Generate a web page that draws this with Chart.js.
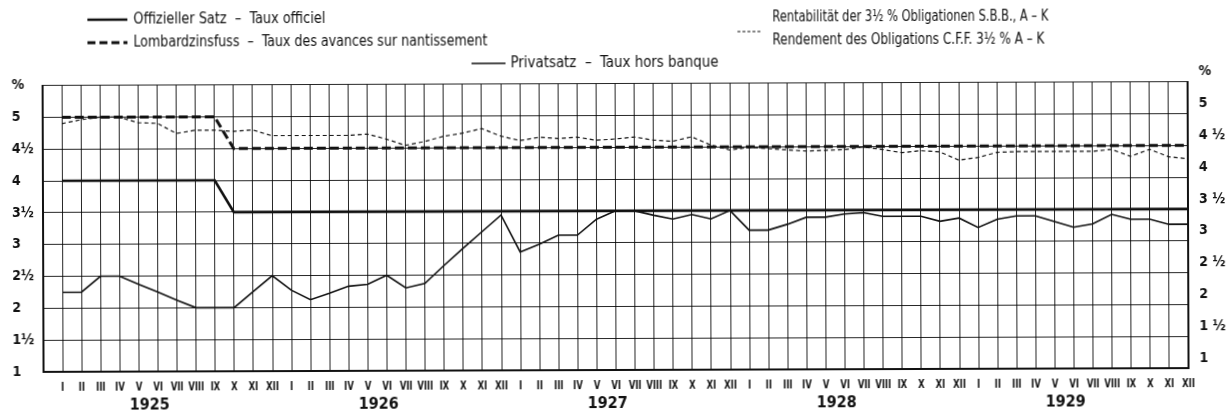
<!DOCTYPE html>
<html><head><meta charset="utf-8">
<script src="https://cdn.jsdelivr.net/npm/chart.js@4/dist/chart.umd.min.js"></script>
<style>
html,body{margin:0;padding:0;background:#fff;overflow:hidden}
#c{display:block;transform:rotate(-0.19deg);transform-origin:614px 207px}
</style></head><body>
<canvas id="c" width="1229" height="414"></canvas>
<script>
const monthLabels = ["I","II","III","IV","V","VI","VII","VIII","IX","X","XI","XII"];
const years = ["1925","1926","1927","1928","1929"];
const leftTickLabels = ["1","1½","2","2½","3","3½","4","4½","5","%"];
const rightTickLabels = ["1","1 ½","2","2 ½","3","3 ½","4","4 ½","5","%"];

// Offizieller Satz (official discount rate), monthly I.1925 – XII.1929
const officialRate = [
  4,4,4,4,4,4,4,4,4,3.5,3.5,3.5,
  3.5,3.5,3.5,3.5,3.5,3.5,3.5,3.5,3.5,3.5,3.5,3.5,
  3.5,3.5,3.5,3.5,3.5,3.5,3.5,3.5,3.5,3.5,3.5,3.5,
  3.5,3.5,3.5,3.5,3.5,3.5,3.5,3.5,3.5,3.5,3.5,3.5,
  3.5,3.5,3.5,3.5,3.5,3.5,3.5,3.5,3.5,3.5,3.5,3.5
];
// Lombardzinsfuss
const lombardRate = [
  5,5,5,5,5,5,5,5,5,4.5,4.5,4.5,
  4.5,4.5,4.5,4.5,4.5,4.5,4.5,4.5,4.5,4.5,4.5,4.5,
  4.5,4.5,4.5,4.5,4.5,4.5,4.5,4.5,4.5,4.5,4.5,4.5,
  4.5,4.5,4.5,4.5,4.5,4.5,4.5,4.5,4.5,4.5,4.5,4.5,
  4.5,4.5,4.5,4.5,4.5,4.5,4.5,4.5,4.5,4.5,4.5,4.5
];
// Privatsatz
const privateRate = [
  2.25,2.25,2.5,2.5,2.37,2.25,2.12,2.0,2.0,2.0,2.25,2.5,
  2.27,2.12,2.22,2.33,2.36,2.5,2.3,2.37,2.65,2.92,3.18,3.44,
  2.86,2.98,3.12,3.12,3.37,3.5,3.5,3.43,3.37,3.44,3.37,3.5,
  3.19,3.19,3.28,3.39,3.39,3.44,3.46,3.4,3.4,3.4,3.32,3.37,
  3.22,3.35,3.4,3.4,3.31,3.22,3.27,3.42,3.34,3.34,3.26,3.26
];
// Rentabilität der 3½% Obligationen S.B.B.
const bondYield = [
  4.9,4.96,5.0,5.0,4.91,4.9,4.74,4.79,4.79,4.77,4.79,4.7,
  4.7,4.7,4.7,4.7,4.72,4.64,4.54,4.6,4.68,4.73,4.8,4.68,
  4.61,4.66,4.64,4.66,4.61,4.63,4.66,4.61,4.59,4.66,4.53,4.45,
  4.49,4.47,4.45,4.43,4.44,4.45,4.49,4.45,4.4,4.43,4.41,4.28,
  4.32,4.4,4.41,4.41,4.41,4.41,4.41,4.44,4.33,4.44,4.32,4.29
];

const FONT = '"Liberation Sans Narrow","DejaVu Sans Condensed","Liberation Sans",sans-serif';
const INK = '#111';
const toPts = arr => arr.map((v, i) => ({x: i + 1, y: v}));

const legendPlugin = {
  id: 'scanLegend',
  afterDraw(chart) {
    const ctx = chart.ctx;
    const xs = chart.scales.x;
    const bottom = chart.chartArea.bottom;
    ctx.save();
    ctx.strokeStyle = INK; ctx.fillStyle = INK;
    ctx.textBaseline = 'middle'; ctx.textAlign = 'left';
    ctx.font = '15px ' + FONT;
    const sample = (x1, x2, y, w, dash) => {
      ctx.beginPath(); ctx.setLineDash(dash); ctx.lineWidth = w;
      ctx.moveTo(x1, y); ctx.lineTo(x2, y); ctx.stroke();
    };
    sample(88, 128, 18, 2.5, []);
    ctx.fillText('Offizieller Satz  –  Taux officiel', 134, 18, 192);
    sample(88, 128, 41, 3, [8, 4]);
    ctx.fillText('Lombardzinsfuss  –  Taux des avances sur nantissement', 134, 41, 354);
    sample(472, 506, 63, 1.5, []);
    ctx.fillText('Privatsatz  –  Taux hors banque', 511, 63, 208);
    sample(738, 762, 32, 1.2, [3, 2]);
    ctx.fillText('Rentabilität der 3½ % Obligationen S.B.B., A – K', 773, 18, 276);
    ctx.fillText('Rendement des Obligations C.F.F. 3½ % A – K', 773, 41, 272);
    ctx.setLineDash([]);
    // month labels (condensed, as in the printed original)
    ctx.textAlign = 'center';
    ctx.font = 'bold 13px ' + FONT;
    for (let n = 1; n <= 60; n++) {
      ctx.save();
      ctx.translate(xs.getPixelForValue(n), bottom + 16);
      ctx.scale(0.72, 1);
      ctx.fillText(monthLabels[(n - 1) % 12], 0, 0);
      ctx.restore();
    }
    // year labels
    ctx.font = 'bold 16px ' + FONT;
    years.forEach((y, i) => {
      ctx.fillText(y, xs.getPixelForValue(12 * i + 5.55), bottom + 34);
    });
    ctx.restore();
  }
};

new Chart(document.getElementById('c'), {
  type: 'line',
  data: {
    datasets: [
      {label: 'Offizieller Satz', data: toPts(officialRate), borderColor: INK, borderWidth: 2.6, order: 1},
      {label: 'Lombardzinsfuss', data: toPts(lombardRate), borderColor: INK, borderWidth: 3, borderDash: [9, 4], order: 2},
      {label: 'Privatsatz', data: toPts(privateRate), borderColor: INK, borderWidth: 1.6, order: 3},
      {label: 'Rentabilität', data: toPts(bondYield), borderColor: INK, borderWidth: 1.2, borderDash: [4, 3], order: 4}
    ]
  },
  options: {
    responsive: false,
    animation: false,
    devicePixelRatio: 1,
    elements: {point: {radius: 0}, line: {tension: 0, fill: false}},
    layout: {padding: {top: 83.6, left: 12, right: 0, bottom: 0}},
    plugins: {legend: {display: false}, tooltip: {enabled: false}, title: {display: false}},
    scales: {
      x: {
        type: 'linear', min: 0, max: 60,
        afterFit: s => { s.height = 44; },
        afterBuildTicks: s => { s.ticks = Array.from({length: 61}, (_, i) => ({value: i})); },
        ticks: {display: false, stepSize: 1, autoSkip: false, maxRotation: 0, minRotation: 0},
        grid: {color: 'rgba(0,0,0,0.85)', lineWidth: 1, drawTicks: false},
        border: {display: true, color: INK, width: 2}
      },
      y: {
        type: 'linear', position: 'left', min: 1, max: 5.5,
        afterFit: s => { s.width = 31; },
        ticks: {
          stepSize: 0.5, crossAlign: 'far', padding: 6,
          color: INK, font: {family: FONT, size: 14, weight: 'bold'},
          callback: v => leftTickLabels[Math.round((v - 1) / 0.5)]
        },
        grid: {color: 'rgba(0,0,0,0.85)', lineWidth: 1, drawTicks: false},
        border: {display: true, color: INK, width: 2}
      },
      y2: {
        type: 'linear', position: 'right', min: 1, max: 5.5,
        afterFit: s => { s.width = 41; },
        ticks: {
          stepSize: 0.5, padding: 11, labelOffset: -10,
          color: INK, font: {family: FONT, size: 14, weight: 'bold'},
          callback: v => rightTickLabels[Math.round((v - 1) / 0.5)]
        },
        grid: {display: false, drawTicks: false},
        border: {display: true, color: INK, width: 2}
      }
    }
  },
  plugins: [legendPlugin]
});
</script>
</body></html>
